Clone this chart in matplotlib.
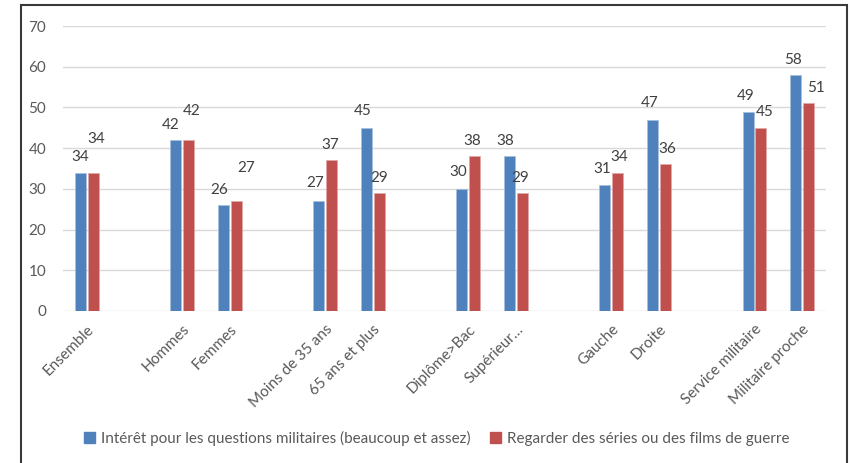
#! /usr/bin/env python3

"""
Interest in military questions vs. watching war films/series, by group.
Grouped bar chart with empty slots separating the groups.
"""
import matplotlib
matplotlib.use('Agg')
import matplotlib.pyplot as plt
from matplotlib.patches import Rectangle

# Empty strings are spacer slots between groups
categories = ['Ensemble', '', 'Hommes', 'Femmes', '',
              'Moins de 35 ans', '65 ans et plus', '',
              'Diplôme>Bac', 'Supérieur…', '',
              'Gauche', 'Droite', '',
              'Service militaire', 'Militaire proche']
interet = [34, None, 42, 26, None, 27, 45, None, 30, 38, None, 31, 47, None, 49, 58]
films = [34, None, 42, 27, None, 37, 29, None, 38, 29, None, 34, 36, None, 45, 51]

series_names = ['Intérêt pour les questions militaires (beaucoup et assez)',
                'Regarder des séries ou des films de guerre']

BLUE = '#4f81bd'
RED = '#c0504d'
TXT = '#595959'
LBL = '#404040'

# extra lift (points) for labels that would otherwise collide
lift_blue = [0, 0, 0, 0, 0, 2, 1, 0, 1, 0, 0, 0, 1, 0, 0, 0]
lift_red = [13, 0, 10, 13, 0, 0, 0, 0, 0, 0, 0, 0, 0, 0, 0, 0]
shift_blue = [0, 0, -4, -3, 0, -3, -3, 0, -3, -3, 0, -2, -2, 0, -2, -2]
shift_red = [2, 0, 2, 7, 0, -1, 0, 0, -2, -2, 0, 1, 1, 0, 3, 5]

plt.rcParams['font.family'] = ['Lato', 'DejaVu Sans']
FS = 11

fig = plt.figure(figsize=(8.5, 4.63), dpi=100)
ax = fig.add_axes([63 / 850, 1 - 311 / 463, (826 - 63) / 850, (311 - 26) / 463])

w = 0.23
gap = 0.02
for i, (b, r) in enumerate(zip(interet, films)):
    if b is None:
        continue
    xb = i - w / 2 - gap
    xr = i + w / 2 + gap
    ax.bar(xb, b, width=w, color=BLUE, edgecolor='#a7c0de', linewidth=0.5, zorder=3)
    ax.bar(xr, r, width=w, color=RED, edgecolor='#e0a8a6', linewidth=0.5, zorder=3)
    ax.annotate(str(b), (xb, b), xytext=(shift_blue[i], 6 + lift_blue[i]),
                textcoords='offset points', ha='center', va='bottom',
                fontsize=FS, color=LBL)
    ax.annotate(str(r), (xr, r), xytext=(shift_red[i], 6 + lift_red[i]),
                textcoords='offset points', ha='center', va='bottom',
                fontsize=FS, color=LBL)

ax.set_xlim(-0.5, len(categories) - 0.5)
ax.set_ylim(0, 70)
ax.set_yticks(range(0, 71, 10))
ax.yaxis.grid(True, color='#d9d9d9', linewidth=1)
ax.set_axisbelow(True)
for s in ax.spines.values():
    s.set_visible(False)
ax.tick_params(axis='both', length=0, labelsize=FS, labelcolor=TXT)
ax.tick_params(axis='y', pad=12)

ax.set_xticks(range(len(categories)))
ax.set_xticklabels(categories, rotation=45, ha='right', rotation_mode='anchor')
ax.tick_params(axis='x', pad=8)

handles = [Rectangle((0, 0), 1, 1, color=BLUE), Rectangle((0, 0), 1, 1, color=RED)]
fig.legend(handles, series_names, loc='center', ncol=2, frameon=False,
           bbox_to_anchor=(0.514, 1 - 438 / 463), fontsize=FS,
           labelcolor=TXT, handlelength=0.7, handleheight=0.7,
           handletextpad=0.4, columnspacing=1.3)

# outer chart border (bottom edge falls off the image)
fig.patches.append(Rectangle((21 / 850, -0.05), (847 - 21) / 850, 1.05 - 5 / 463,
                             transform=fig.transFigure, fill=False,
                             edgecolor='#3a3a3a', linewidth=1.5))

fig.savefig('out.png', dpi=100)
